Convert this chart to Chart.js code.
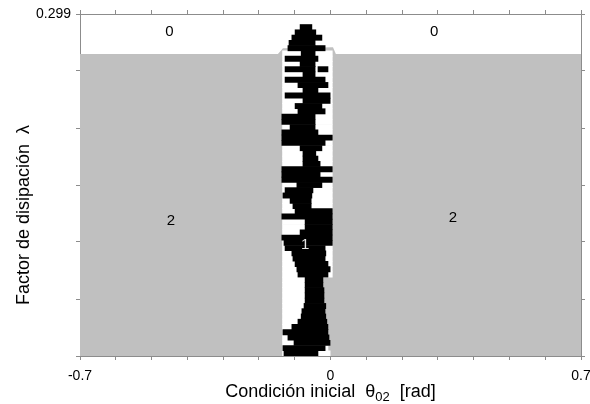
<!DOCTYPE html>
<html>
<head>
<meta charset="utf-8">
<script src="https://cdn.jsdelivr.net/npm/chart.js@4/dist/chart.umd.min.js"></script>
<style>
  html, body { margin: 0; padding: 0; background: #fff; }
</style>
</head>
<body>
<canvas id="basin" width="590" height="404"></canvas>
<script>
// Axis ticks
const xTicks = [-0.7, -0.6, -0.5, -0.4, -0.3, -0.2, -0.1, 0, 0.1, 0.2, 0.3, 0.4, 0.5, 0.6, 0.7];
const xTickLabels = ['-0.7', '', '', '', '', '', '', '0', '', '', '', '', '', '', '0.7'];
const yTicks = [0, 0.0498, 0.0997, 0.1495, 0.1993, 0.2492, 0.299];
const yTickLabels = ['', '', '', '', '', '', '0.299'];

// Upper edge of the gray basin (attractor 2)
const grayX = [-0.7, -0.147, -0.133, 0.007, 0.015, 0.7];
const grayY = [0.264, 0.264, 0.269, 0.270, 0.264, 0.264];

// Rows of the central strip (lambda), top to bottom
const rowLambda = [0.2875, 0.2829, 0.2783, 0.2737, 0.2691, 0.2645, 0.2599, 0.2553, 0.2507, 0.2461,
  0.2415, 0.2369, 0.2323, 0.2277, 0.2231, 0.2185, 0.2139, 0.2093, 0.2047, 0.2001,
  0.1955, 0.1909, 0.1863, 0.1817, 0.1771, 0.1725, 0.1679, 0.1633, 0.1587, 0.1541,
  0.1495, 0.1449, 0.1403, 0.1357, 0.1311, 0.1265, 0.1219, 0.1173, 0.1127, 0.1081,
  0.1035, 0.0989, 0.0943, 0.0897, 0.0851, 0.0805, 0.0759, 0.0713, 0.0667, 0.0621,
  0.0575, 0.0529, 0.0483, 0.0437, 0.0391, 0.0345, 0.0299, 0.0253, 0.0207, 0.0161,
  0.0115, 0.0069, 0.0023];

// white part of the strip (attractor 0)
const stripFrom = [null, null, null, null, null, -0.134, -0.134, -0.134, -0.134, -0.134,
  -0.134, -0.134, -0.134, -0.134, -0.134, -0.134, -0.134, -0.134, -0.134, -0.134,
  -0.134, -0.134, -0.134, -0.134, -0.134, -0.134, -0.134, -0.134, -0.134, -0.134,
  -0.134, -0.134, -0.134, -0.134, -0.134, -0.134, -0.134, -0.134, -0.134, -0.134,
  -0.134, -0.134, -0.134, -0.134, -0.134, -0.134, -0.134, -0.134, -0.134, -0.134,
  -0.134, -0.134, -0.134, -0.134, -0.134, -0.134, -0.134, -0.134, -0.134, -0.134,
  -0.134, -0.134, -0.134];
const stripTo = [null, null, null, null, null, 0.005, 0.005, 0.005, 0.005, 0.005,
  0.005, 0.005, 0.005, 0.005, 0.005, 0.005, 0.005, 0.005, 0.005, 0.005,
  0.005, 0.005, 0.005, 0.005, 0.005, 0.005, 0.005, 0.005, 0.005, 0.005,
  0.005, 0.005, 0.005, 0.005, 0.005, 0.005, 0.005, 0.005, 0.005, 0.005,
  0.005, 0.005, 0.005, 0.005, 0.005, 0.005, 0.005, 0.005, -0.021, -0.021,
  -0.018, -0.018, -0.018, -0.013, -0.015, -0.013, -0.010, -0.007, -0.007, -0.004,
  -0.001, -0.007, -0.001];

// black part of the strip (attractor 1)
const blackFrom = [-0.085, -0.099, -0.108, -0.116, -0.119, -0.082, -0.127, -0.085, -0.127, -0.077,
  -0.127, -0.091, -0.077, -0.127, -0.077, -0.099, -0.091, -0.136, -0.136, -0.113,
  -0.136, -0.136, -0.136, -0.085, -0.077, -0.077, -0.077, -0.136, -0.136, -0.136,
  -0.094, -0.127, -0.133, -0.113, -0.105, -0.099, -0.136, -0.071, -0.071, -0.085,
  -0.136, -0.130, -0.127, -0.108, -0.105, -0.099, -0.094, -0.091, -0.071, -0.071,
  -0.071, -0.071, -0.071, -0.074, -0.080, -0.082, -0.091, -0.108, -0.133, -0.119,
  -0.102, -0.133, -0.130];
const blackTo = [-0.052, -0.041, -0.024, -0.043, -0.043, -0.043, -0.035, -0.043, -0.043, -0.043,
  -0.015, -0.007, -0.035, -0.001, -0.001, -0.024, -0.015, -0.043, -0.043, -0.043,
  -0.035, 0.005, -0.015, -0.024, -0.041, -0.035, -0.029, 0.005, -0.029, 0.005,
  -0.024, -0.049, -0.052, -0.054, -0.054, 0.005, 0.005, 0.005, 0.005, 0.005,
  0.005, 0.005, -0.015, -0.013, -0.015, -0.007, -0.001, -0.007, -0.021, -0.021,
  -0.018, -0.018, -0.018, -0.013, -0.015, -0.013, -0.010, -0.007, -0.007, -0.004,
  -0.001, -0.015, -0.035];
// second black streak in a few rows
const extraFrom = [null, null, null, null, -0.043, null, null, null, -0.035, null];
const extraTo = [null, null, null, null, -0.015, null, null, null, -0.007, null];

// Basin labels
const regionText = ['0', '0', '2', '2', '1'];
const regionX = [-0.45, 0.29, -0.446, 0.342, -0.071];
const regionY = [0.283, 0.283, 0.118, 0.121, 0.097];
const regionColor = ['#000', '#000', '#000', '#000', '#e6e6e6'];

const FONT = '"Liberation Sans", Arial, sans-serif';
const AXIS = '#8c8c8c';

function rows(from, to) {
  const out = [];
  rowLambda.forEach((l, i) => {
    if (from[i] != null && to[i] != null) out.push({ y: l, x: [from[i], to[i]] });
  });
  return out;
}

const textPlugin = {
  id: 'texts',
  afterDatasetsDraw(chart) {
    const { ctx, scales: { x, y } } = chart;
    ctx.save();
    ctx.font = '15px ' + FONT;
    ctx.textAlign = 'center';
    ctx.textBaseline = 'middle';
    regionText.forEach((t, i) => {
      ctx.fillStyle = regionColor[i];
      ctx.fillText(t, x.getPixelForValue(regionX[i]), y.getPixelForValue(regionY[i]));
    });
    ctx.restore();
  },
  afterDraw(chart) {
    const ctx = chart.ctx;
    const area = chart.chartArea;
    ctx.save();
    ctx.fillStyle = '#000';
    ctx.textBaseline = 'alphabetic';
    // x title with subscript
    const big = '18px ' + FONT, small = '13px ' + FONT;
    const p1 = 'Condición inicial  θ', p2 = '02', p3 = '  [rad]';
    ctx.font = big; const w1 = ctx.measureText(p1).width, w3 = ctx.measureText(p3).width;
    ctx.font = small; const w2 = ctx.measureText(p2).width;
    let cx = (area.left + area.right) / 2 - (w1 + w2 + w3) / 2;
    const base = 397;
    ctx.textAlign = 'left';
    ctx.font = big; ctx.fillText(p1, cx, base); cx += w1;
    ctx.font = small; ctx.fillText(p2, cx, base + 4); cx += w2;
    ctx.font = big; ctx.fillText(p3, cx, base);
    // y title
    ctx.translate(29, 215);
    ctx.rotate(-Math.PI / 2);
    ctx.textAlign = 'center';
    ctx.font = big;
    ctx.fillText('Factor de disipación  λ', 0, 0);
    ctx.restore();
  }
};

function axis(position, labels, ticks, size) {
  return {
    type: 'linear',
    position: position,
    offset: false,
    afterBuildTicks: (s) => { s.ticks = ticks.map(v => ({ value: v })); },
    afterFit: (s) => {
      if (position === 'left' || position === 'right') s.width = size; else s.height = size;
      s.paddingLeft = 0; s.paddingRight = 0; s.paddingTop = 0; s.paddingBottom = 0;
    },
    grid: { display: true, drawOnChartArea: false, drawTicks: true, tickLength: 4, color: AXIS, offset: false },
    border: { display: true, color: AXIS, width: 1 },
    ticks: {
      autoSkip: false, maxRotation: 0, padding: position === 'bottom' ? 8 : 5,
      color: '#000', font: { size: 14, family: FONT },
      callback: (v, i) => labels ? labels[i] : ''
    }
  };
}

const xMain = Object.assign(axis('bottom', xTickLabels, xTicks, 48), { min: -0.7, max: 0.7 });
const xTop = Object.assign(axis('top', null, xTicks, 14), { min: -0.7, max: 0.7 });
const yMain = Object.assign(axis('left', yTickLabels, yTicks, 80), { min: 0, max: 0.299 });
const yRight = Object.assign(axis('right', null, yTicks, 9), { min: 0, max: 0.299 });

new Chart(document.getElementById('basin'), {
  type: 'bar',
  data: {
    datasets: [
      {
        label: 'atractor 1', data: rows(blackFrom, blackTo), backgroundColor: '#000',
        grouped: false, barPercentage: 1, categoryPercentage: 1, borderWidth: 0, order: 1
      },
      {
        label: 'atractor 1b', data: rows(extraFrom, extraTo), backgroundColor: '#000',
        grouped: false, barPercentage: 1, categoryPercentage: 1, borderWidth: 0, order: 1
      },
      {
        label: 'atractor 0', data: rows(stripFrom, stripTo), backgroundColor: '#fff',
        grouped: false, barPercentage: 1, categoryPercentage: 1, borderWidth: 0, order: 2
      },
      {
        type: 'line', indexAxis: 'x', label: 'atractor 2',
        data: grayX.map((v, i) => ({ x: v, y: grayY[i] })),
        backgroundColor: '#c0c0c0', borderWidth: 0, pointRadius: 0, fill: 'start', tension: 0, order: 3
      }
    ]
  },
  options: {
    indexAxis: 'y',
    responsive: false,
    animation: false,
    layout: { padding: 0 },
    plugins: { legend: { display: false }, tooltip: { enabled: false } },
    scales: { x: xMain, x2: xTop, y: yMain, y2: yRight }
  },
  plugins: [textPlugin]
});
</script>
</body>
</html>
